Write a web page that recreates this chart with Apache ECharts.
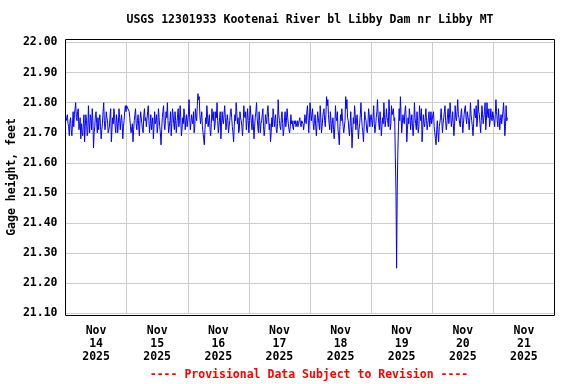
<!DOCTYPE html>
<html>
<head>
<meta charset="utf-8">
<script src="https://cdn.jsdelivr.net/npm/echarts@6/dist/echarts.min.js"></script>
<style>html,body{margin:0;padding:0;background:#fff}#c{width:576px;height:384px}</style>
</head>
<body>
<div id="c"></div>
<script>
// Gage height (feet), 15-minute readings starting Nov 14 2025 00:00
var nov14 = [21.76,21.74,21.75,21.76,21.73,21.72,21.69,21.74,21.75,21.71,21.69,21.73,21.77,21.72,21.76,21.78,21.80,21.75,21.74,21.77,21.78,21.71,21.72,21.75,21.68,21.73,21.70,21.69,21.73,21.76,21.67,21.72,21.76,21.74,21.69,21.70,21.79,21.73,21.70,21.76,21.75,21.71,21.78,21.74,21.65,21.70,21.72,21.76,21.77,21.73,21.70,21.75,21.71,21.74,21.76,21.72,21.68,21.71,21.73,21.77,21.80,21.74,21.71,21.73,21.77,21.75,21.74,21.70,21.70,21.72,21.76,21.78,21.67,21.71,21.75,21.73,21.78,21.76,21.72,21.70,21.76,21.74,21.70,21.73,21.78,21.75,21.71,21.74,21.76,21.73,21.68,21.72,21.74,21.77,21.79,21.77];
var nov15 = [21.79,21.79,21.79,21.79,21.77,21.75,21.72,21.70,21.70,21.73,21.67,21.71,21.74,21.76,21.78,21.73,21.71,21.74,21.76,21.72,21.69,21.74,21.77,21.75,21.73,21.71,21.70,21.76,21.78,21.74,21.75,21.72,21.72,21.77,21.79,21.74,21.70,21.73,21.76,21.71,21.73,21.75,21.68,21.72,21.77,21.73,21.74,21.76,21.70,21.72,21.78,21.75,21.72,21.70,21.66,21.71,21.75,21.77,21.79,21.73,21.71,21.74,21.77,21.75,21.80,21.74,21.70,21.72,21.74,21.77,21.69,21.73,21.78,21.76,21.73,21.71,21.77,21.74,21.70,21.73,21.76,21.78,21.72,21.74,21.79,21.75,21.69,21.71,21.75,21.73,21.78,21.76,21.71,21.74,21.76,21.72];
var nov16 = [21.72,21.76,21.81,21.75,21.71,21.73,21.76,21.74,21.73,21.77,21.70,21.72,21.78,21.75,21.74,21.79,21.83,21.81,21.82,21.76,21.73,21.75,21.77,21.72,21.70,21.68,21.66,21.71,21.75,21.73,21.79,21.76,21.72,21.74,21.76,21.71,21.69,21.73,21.78,21.75,21.74,21.77,21.71,21.73,21.77,21.75,21.80,21.74,21.70,21.72,21.75,21.77,21.68,21.72,21.77,21.74,21.73,21.76,21.79,21.75,21.71,21.73,21.76,21.74,21.70,21.72,21.74,21.77,21.78,21.75,21.72,21.70,21.67,21.72,21.76,21.74,21.80,21.77,21.73,21.75,21.70,21.71,21.77,21.75,21.74,21.72,21.69,21.73,21.79,21.76,21.75,21.77,21.71,21.74,21.78,21.74];
var nov17 = [21.70,21.74,21.79,21.76,21.73,21.71,21.76,21.73,21.68,21.72,21.75,21.77,21.80,21.75,21.72,21.70,21.77,21.74,21.70,21.73,21.74,21.76,21.78,21.72,21.69,21.71,21.76,21.74,21.73,21.77,21.79,21.75,21.71,21.73,21.67,21.70,21.75,21.72,21.78,21.76,21.72,21.74,21.76,21.71,21.70,21.73,21.81,21.76,21.74,21.72,21.71,21.75,21.77,21.73,21.69,21.71,21.75,21.77,21.72,21.74,21.78,21.75,21.73,21.71,21.70,21.72,21.76,21.73,21.74,21.72,21.71,21.74,21.73,21.74,21.72,21.73,21.74,21.72,21.73,21.74,21.75,21.73,21.72,21.74,21.74,21.73,21.71,21.73,21.76,21.74,21.73,21.77,21.79,21.75,21.70,21.74];
var nov18 = [21.80,21.77,21.74,21.76,21.78,21.73,21.71,21.74,21.76,21.72,21.69,21.73,21.77,21.75,21.73,21.71,21.79,21.75,21.70,21.72,21.75,21.77,21.78,21.74,21.72,21.76,21.82,21.79,21.81,21.76,21.73,21.71,21.77,21.74,21.70,21.73,21.75,21.71,21.68,21.72,21.79,21.75,21.74,21.77,21.71,21.69,21.66,21.72,21.76,21.74,21.78,21.75,21.72,21.70,21.70,21.74,21.82,21.78,21.81,21.75,21.74,21.71,21.69,21.73,21.77,21.72,21.65,21.70,21.75,21.73,21.79,21.76,21.71,21.74,21.76,21.72,21.68,21.71,21.73,21.76,21.80,21.75,21.72,21.70,21.67,21.72,21.77,21.75,21.74,21.71,21.70,21.73,21.78,21.76,21.72,21.75];
var nov19 = [21.76,21.74,21.72,21.75,21.79,21.73,21.70,21.72,21.75,21.77,21.81,21.76,21.73,21.71,21.77,21.74,21.69,21.72,21.75,21.73,21.80,21.76,21.72,21.74,21.78,21.75,21.74,21.72,21.81,21.77,21.71,21.73,21.79,21.76,21.76,21.78,21.74,21.75,21.62,21.51,21.25,21.51,21.64,21.72,21.78,21.74,21.82,21.76,21.70,21.73,21.76,21.74,21.73,21.77,21.79,21.75,21.67,21.71,21.75,21.73,21.78,21.76,21.71,21.74,21.76,21.72,21.69,21.73,21.80,21.75,21.73,21.71,21.77,21.74,21.70,21.72,21.79,21.76,21.74,21.78,21.67,21.71,21.76,21.73,21.72,21.75,21.78,21.74,21.71,21.73,21.75,21.77,21.72,21.74,21.77,21.73];
var nov20 = [21.73,21.76,21.77,21.72,21.70,21.68,21.66,21.71,21.74,21.70,21.67,21.72,21.72,21.75,21.78,21.74,21.70,21.73,21.75,21.77,21.79,21.74,21.71,21.73,21.76,21.78,21.73,21.75,21.80,21.76,21.72,21.74,21.77,21.73,21.69,21.72,21.79,21.75,21.74,21.77,21.81,21.76,21.75,21.73,21.72,21.76,21.78,21.74,21.70,21.73,21.76,21.78,21.79,21.75,21.73,21.77,21.77,21.74,21.71,21.75,21.80,21.76,21.74,21.72,21.69,21.73,21.78,21.76,21.75,21.79,21.72,21.74,21.81,21.77,21.76,21.73,21.70,21.74,21.79,21.76,21.73,21.75,21.77,21.80,21.71,21.74,21.80,21.76,21.75,21.78,21.72,21.74,21.78,21.75,21.74,21.77];
var nov21 = [21.77,21.74,21.72,21.76,21.81,21.77,21.74,21.72,21.78,21.75,21.71,21.74,21.76,21.73,21.73,21.77,21.80,21.75,21.69,21.72,21.79,21.74,21.75];

var dayLabels = ['Nov\n14\n2025','Nov\n15\n2025','Nov\n16\n2025','Nov\n17\n2025','Nov\n18\n2025','Nov\n19\n2025','Nov\n20\n2025','Nov\n21\n2025'];
var yMin = 21.10, yMax = 22.00, yStep = 0.10;
var stepHours = 0.25;

var all = [].concat(nov14, nov15, nov16, nov17, nov18, nov19, nov20, nov21);
var seriesData = all.map(function (v, i) { return [i * stepHours, v]; });

var FONT = 'DejaVu Sans Mono';
var chart = echarts.init(document.getElementById('c'), null, { renderer: 'canvas' });

var gridLeft = 65.5, gridRight = 21.5, gridTop = 42.5, gridBottom = 70.7;

chart.setOption({
  animation: false,
  backgroundColor: '#fff',
  grid: { left: gridLeft, right: gridRight, top: gridTop, bottom: gridBottom, containLabel: false, outerBoundsMode: 'none' },
  xAxis: [
    {
      type: 'value', min: 0, max: 192, interval: 24,
      axisLine: { show: false }, axisTick: { show: false }, axisLabel: { show: false },
      splitLine: { show: true, lineStyle: { color: '#cccccc', width: 1 } }
    },
    {
      type: 'category', data: dayLabels, boundaryGap: true, position: 'bottom',
      axisLine: { show: false }, axisTick: { show: false }, splitLine: { show: false },
      axisLabel: { color: '#000', fontFamily: FONT, fontWeight: 'bold', fontSize: 11.5, lineHeight: 13, margin: 11, interval: 0 }
    }
  ],
  yAxis: {
    type: 'value', min: yMin, max: yMax, interval: yStep,
    axisLine: { show: false }, axisTick: { show: false },
    axisLabel: { color: '#000', fontFamily: FONT, fontWeight: 'bold', fontSize: 11.5, margin: 8,
      formatter: function (v) { return v.toFixed(2); } },
    splitLine: { show: true, lineStyle: { color: '#cccccc', width: 1 } }
  },
  series: [{
    type: 'line', xAxisIndex: 0, data: seriesData, showSymbol: false, symbol: 'none',
    lineStyle: { color: '#0000ff', width: 1 }, sampling: null, z: 3
  }],
  graphic: [
    { type: 'rect', z: 100, silent: true,
      shape: { x: 65.5, y: 39.5, width: 489, height: 276 },
      style: { fill: 'none', stroke: '#000', lineWidth: 1 } },
    { type: 'text', z: 100, x: 310, y: 20,
      style: { text: 'USGS 12301933 Kootenai River bl Libby Dam nr Libby MT', fill: '#000',
        font: 'bold 11.5px "DejaVu Sans Mono"', textAlign: 'center', textVerticalAlign: 'middle' } },
    { type: 'text', z: 100, x: 12, y: 177, rotation: Math.PI / 2,
      style: { text: 'Gage height, feet', fill: '#000',
        font: 'bold 11.5px "DejaVu Sans Mono"', textAlign: 'center', textVerticalAlign: 'middle' } },
    { type: 'text', z: 100, x: 309, y: 375,
      style: { text: '---- Provisional Data Subject to Revision ----', fill: '#ff0000',
        font: 'bold 11.5px "DejaVu Sans Mono"', textAlign: 'center', textVerticalAlign: 'middle' } }
  ]
});
</script>
</body>
</html>
